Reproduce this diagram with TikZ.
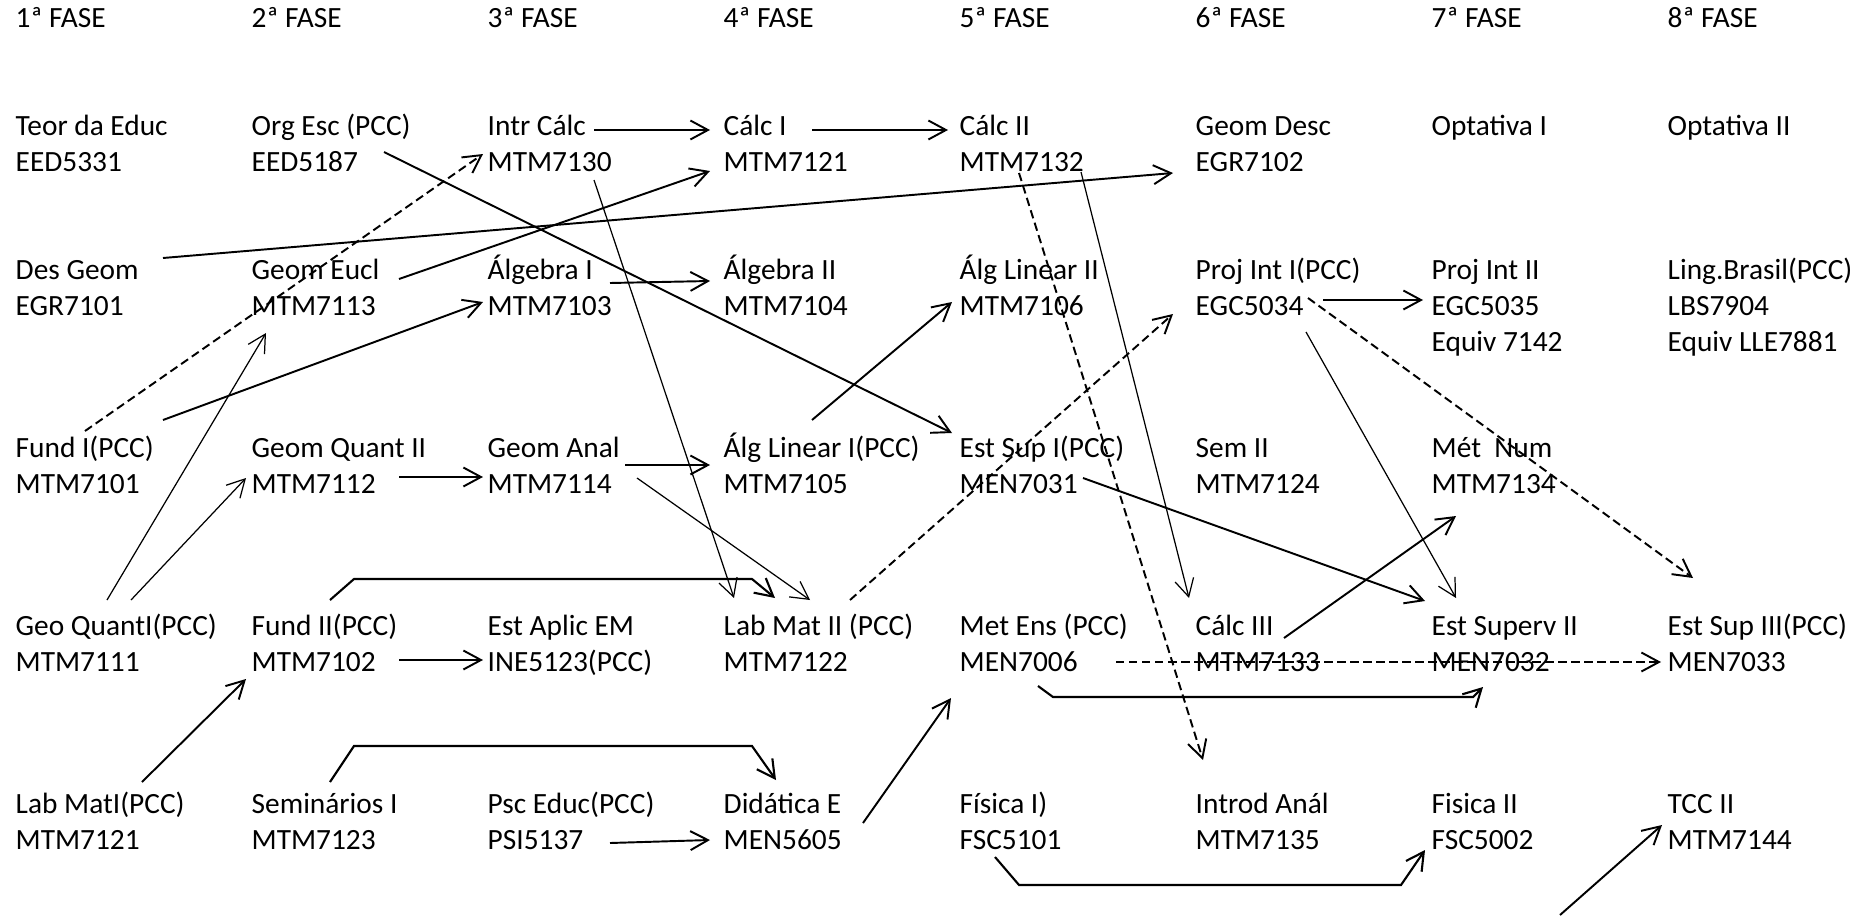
\documentclass[tikz,border=0pt]{standalone}
\usepackage{fontspec}
\setmainfont{Carlito}
\usetikzlibrary{arrows.meta}

\newcommand{\cadeira}[2]{\strut #1\\\strut #2}

\begin{document}
\begin{tikzpicture}[x=0.01cm,y=-0.01cm,
    disc/.style={anchor=north west, inner sep=0pt, align=left, font=\fontsize{8.35}{10.24}\selectfont},
    seta/.style={-{Straight Barb[length=5pt,width=5.4pt]}, line width=0.55pt},
    fina/.style={seta, line width=0.35pt},
    trac/.style={seta, dash pattern=on 2.4pt off 1.3pt},
    cotov/.style={seta, line width=0.6pt}]
    \useasboundingbox (0,0) rectangle (1870,915);

    % Fases
    \foreach \i in {1,...,8}
        \node[disc] (f\i) at ({15+236*(\i-1)},2) {\strut{\i}ª FASE};

    % Disciplinas
    \node[disc] (teor)     at (15,110)   {\cadeira{Teor da Educ}{EED5331}};
    \node[disc] (orgesc)   at (251,110)  {\cadeira{Org Esc (PCC)}{EED5187}};
    \node[disc] (intrcalc) at (487,110)  {\cadeira{Intr Cálc}{MTM7130}};
    \node[disc] (calcI)    at (723,110)  {\cadeira{Cálc I}{MTM7121}};
    \node[disc] (calcII)   at (959,110)  {\cadeira{Cálc II}{MTM7132}};
    \node[disc] (geomdesc) at (1195,110) {\cadeira{Geom Desc}{EGR7102}};
    \node[disc] (optI)     at (1431,110) {\strut Optativa I};
    \node[disc] (optII)    at (1667,110) {\strut Optativa II};

    \node[disc] (desgeom)  at (15,254)   {\cadeira{Des Geom}{EGR7101}};
    \node[disc] (geomeucl) at (251,254)  {\cadeira{Geom Eucl}{MTM7113}};
    \node[disc] (algI)     at (487,254)  {\cadeira{Álgebra I}{MTM7103}};
    \node[disc] (algII)    at (723,254)  {\cadeira{Álgebra II}{MTM7104}};
    \node[disc] (alglinII) at (959,254)  {\cadeira{Álg Linear II}{MTM7106}};
    \node[disc] (projI)    at (1195,254) {\cadeira{Proj Int I(PCC)}{EGC5034}};
    \node[disc] (projII)   at (1431,254) {\cadeira{Proj Int II}{EGC5035}\\\strut Equiv 7142};
    \node[disc] (lingbr)   at (1667,254) {\cadeira{Ling.Brasil(PCC)}{LBS7904}\\\strut Equiv LLE7881};

    \node[disc] (fundI)    at (15,432)   {\cadeira{Fund I(PCC)}{MTM7101}};
    \node[disc] (geomqII)  at (251,432)  {\cadeira{Geom Quant II}{MTM7112}};
    \node[disc] (geomanal) at (487,432)  {\cadeira{Geom Anal}{MTM7114}};
    \node[disc] (alglinI)  at (723,432)  {\cadeira{Álg Linear I(PCC)}{MTM7105}};
    \node[disc] (estsupI)  at (959,432)  {\cadeira{Est Sup I(PCC)}{MEN7031}};
    \node[disc] (semII)    at (1195,432) {\cadeira{Sem II}{MTM7124}};
    \node[disc] (metnum)   at (1431,432) {\cadeira{Mét\ \ Num}{MTM7134}};

    \node[disc] (geoqI)     at (15,610)   {\cadeira{Geo QuantI(PCC)}{MTM7111}};
    \node[disc] (fundII)    at (251,610)  {\cadeira{Fund II(PCC)}{MTM7102}};
    \node[disc] (estaplic)  at (487,610)  {\cadeira{Est Aplic EM}{INE5123(PCC)}};
    \node[disc] (labmatII)  at (723,610)  {\cadeira{Lab Mat II (PCC)}{MTM7122}};
    \node[disc] (metens)    at (959,610)  {\cadeira{Met Ens (PCC)}{MEN7006}};
    \node[disc] (calcIII)   at (1195,610) {\cadeira{Cálc III}{MTM7133}};
    \node[disc] (estsupII)  at (1431,610) {\cadeira{Est Superv II}{MEN7032}};
    \node[disc] (estsupIII) at (1667,610) {\cadeira{Est Sup III(PCC)}{MEN7033}};

    \node[disc] (labmatI)  at (15,788)   {\cadeira{Lab MatI(PCC)}{MTM7121}};
    \node[disc] (semI)     at (251,788)  {\cadeira{Seminários I}{MTM7123}};
    \node[disc] (psceduc)  at (487,788)  {\cadeira{Psc Educ(PCC)}{PSI5137}};
    \node[disc] (didat)    at (723,788)  {\cadeira{Didática E}{MEN5605}};
    \node[disc] (fisI)     at (959,788)  {\cadeira{Física I)}{FSC5101}};
    \node[disc] (introd)   at (1195,788) {\cadeira{Introd Anál}{MTM7135}};
    \node[disc] (fisII)    at (1431,788) {\cadeira{Fisica II}{FSC5002}};
    \node[disc] (tcc)      at (1667,788) {\cadeira{TCC II}{MTM7144}};

    \coordinate (solto) at (1560,915);

    % Setas horizontais
    \draw[seta] ([shift={(107,20)}]intrcalc.north west) -- ([shift={(-13,20)}]calcI.north west);
    \draw[seta] ([shift={(89,20)}]calcI.north west) -- ([shift={(-11,20)}]calcII.north west);
    \draw[seta] ([shift={(123,29)}]algI.north west) -- ([shift={(-13,27)}]algII.north west);
    \draw[seta] ([shift={(148,45)}]geomqII.north west) -- ([shift={(-4,45)}]geomanal.north west);
    \draw[seta] ([shift={(138,33)}]geomanal.north west) -- ([shift={(-13,33)}]alglinI.north west);
    \draw[seta] ([shift={(128,46)}]projI.north west) -- ([shift={(-8,46)}]projII.north west);
    \draw[seta] ([shift={(148,50)}]fundII.north west) -- ([shift={(-4,50)}]estaplic.north west);
    \draw[seta] ([shift={(123,55)}]psceduc.north west) -- ([shift={(-13,52)}]didat.north west);

    % Setas diagonais
    \draw[seta] ([shift={(133,42)}]orgesc.north west) -- ([shift={(-7,1)}]estsupI.north west);
    \draw[seta] ([shift={(148,4)}]desgeom.north west) -- ([shift={(-22,63)}]geomdesc.north west);
    \draw[seta] ([shift={(148,25)}]geomeucl.north west) -- ([shift={(-13,61)}]calcI.north west);
    \draw[seta] ([shift={(148,-12)}]fundI.north west) -- ([shift={(-4,48)}]algI.north west);
    \draw[fina] ([shift={(107,70)}]intrcalc.north west) -- ([shift={(11,-12)}]labmatII.north west);
    \draw[fina] ([shift={(92,-10)}]geoqI.north west) -- ([shift={(15,79)}]geomeucl.north west);
    \draw[fina] ([shift={(116,-10)}]geoqI.north west) -- ([shift={(-5,46)}]geomqII.north west);
    \draw[fina] ([shift={(150,46)}]geomanal.north west) -- ([shift={(87,-10)}]labmatII.north west);
    \draw[seta] ([shift={(89,-12)}]alglinI.north west) -- ([shift={(-7,48)}]alglinII.north west);
    \draw[fina] ([shift={(122,62)}]calcII.north west) -- ([shift={(-6,-12)}]calcIII.north west);
    \draw[fina] ([shift={(111,78)}]projI.north west) -- ([shift={(25,-12)}]estsupII.north west);
    \draw[seta] ([shift={(124,46)}]estsupI.north west) -- ([shift={(-6,-9)}]estsupII.north west);
    \draw[seta] ([shift={(89,28)}]calcIII.north west) -- ([shift={(25,84)}]metnum.north west);
    \draw[seta] ([shift={(140,35)}]didat.north west) -- ([shift={(-8,88)}]metens.north west);
    \draw[seta] ([shift={(127,-6)}]labmatI.north west) -- ([shift={(-5,69)}]fundII.north west);
    \draw[seta] (solto) -- ([shift={(-5,37)}]tcc.north west);

    % Tracejadas
    \draw[trac] ([shift={(70,-1)}]fundI.north west) -- ([shift={(-4,44)}]intrcalc.north west);
    \draw[trac] ([shift={(127,-10)}]labmatII.north west) -- ([shift={(-22,60)}]projI.north west);
    \draw[trac] ([shift={(60,63)}]calcII.north west) -- ([shift={(8,-28)}]introd.north west);
    \draw[trac] ([shift={(113,44)}]projI.north west) -- ([shift={(26,-32)}]estsupIII.north west);
    \draw[trac] ([shift={(157,52)}]metens.north west) -- ([shift={(-6,52)}]estsupIII.north west);

    % Cotovelos
    \draw[cotov] ([shift={(79,-10)}]fundII.north west) -- ++(24,-21) -- ([shift={(29,-31)}]labmatII.north west) -- ([shift={(52,-12)}]labmatII.north west);
    \draw[cotov] ([shift={(79,76)}]metens.north west) -- ++(15,11) -- ([shift={(42,87)}]estsupII.north west) -- ([shift={(52,77)}]estsupII.north west);
    \draw[cotov] ([shift={(79,-6)}]semI.north west) -- ++(24,-36) -- ([shift={(29,-42)}]didat.north west) -- ([shift={(53,-8)}]didat.north west);
    \draw[cotov] ([shift={(36,69)}]fisI.north west) -- ++(24,28) -- ([shift={(-30,97)}]fisII.north west) -- ([shift={(-6,62)}]fisII.north west);
\end{tikzpicture}
\end{document}
